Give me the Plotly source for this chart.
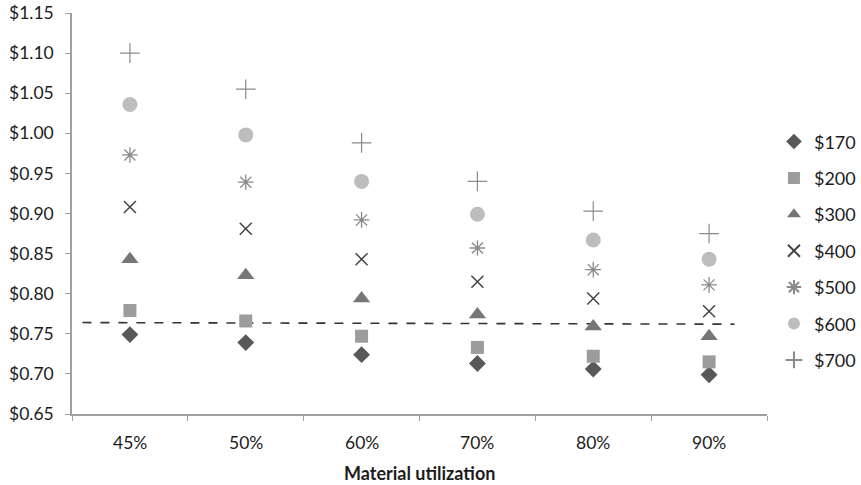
import plotly.graph_objects as go

# Material utilization categories (x axis)
categories = ["45%", "50%", "60%", "70%", "80%", "90%"]

# Cost per part for each material price scenario
price_170 = [0.749, 0.739, 0.724, 0.713, 0.706, 0.699]
price_200 = [0.779, 0.766, 0.747, 0.733, 0.722, 0.715]
price_300 = [0.843, 0.823, 0.794, 0.774, 0.759, 0.747]
price_400 = [0.908, 0.881, 0.843, 0.815, 0.794, 0.778]
price_500 = [0.973, 0.939, 0.892, 0.857, 0.830, 0.811]
price_600 = [1.036, 0.998, 0.940, 0.899, 0.867, 0.843]
price_700 = [1.100, 1.055, 0.988, 0.940, 0.903, 0.875]

series_names = ["$170", "$200", "$300", "$400", "$500", "$600", "$700"]
series_values = [price_170, price_200, price_300, price_400, price_500, price_600, price_700]

# Reference (target cost) dashed line, endpoints in category-index units
ref_x = [-0.41, 5.22]
ref_y = [0.764, 0.762]

y_ticks = [0.65, 0.70, 0.75, 0.80, 0.85, 0.90, 0.95, 1.00, 1.05, 1.10, 1.15]

styles = [
    dict(symbol="diamond", color="#585858", size=13, lw=0, lc="#585858"),
    dict(symbol="square", color="#9c9c9c", size=13, lw=0, lc="#9c9c9c"),
    dict(symbol="triangle-up", color="#767676", size=15, lw=0, lc="#767676"),
    dict(symbol="x-thin-open", color="#444444", size=12, lw=1.5, lc="#444444"),
    dict(symbol="asterisk-open", color="#8a8a8a", size=13, lw=1.3, lc="#8a8a8a"),
    dict(symbol="circle", color="#bdbdbd", size=15, lw=0, lc="#bdbdbd"),
    dict(symbol="cross-thin-open", color="#8a8a8a", size=14, lw=1.2, lc="#8a8a8a"),
]

x_idx = list(range(len(categories)))

fig = go.Figure()

fig.add_trace(go.Scatter(
    x=ref_x, y=ref_y, mode="lines",
    line=dict(color="#333333", width=1.6, dash="dash"),
    showlegend=False, hoverinfo="skip",
))

for i, (name, vals, st) in enumerate(zip(series_names, series_values, styles)):
    fig.add_trace(go.Scatter(
        x=x_idx, y=vals, mode="markers", name=name,
        legendgroup=f"g{i}",
        marker=dict(symbol=st["symbol"], color=st["color"], size=st["size"],
                    line=dict(width=st["lw"], color=st["lc"])),
    ))

font_family = "Lato, 'Open Sans', sans-serif"
text_color = "#1c1c1c"

plot_h = 485 - 13 - 71

fig.update_layout(
    width=861, height=485,
    margin=dict(l=72, r=94, t=13, b=71, autoexpand=False),
    plot_bgcolor="white", paper_bgcolor="white",
    font=dict(family=font_family, size=17.5, color=text_color),
    legend=dict(
        x=1.010, xanchor="left", y=0.407, yanchor="middle",
        font=dict(size=18, color=text_color),
        tracegroupgap=10, itemwidth=30, itemsizing="constant",
        bgcolor="rgba(0,0,0,0)",
    ),
    xaxis=dict(
        range=[-0.5, 5.5],
        tickvals=[-0.5 + k for k in range(len(categories) + 1)],
        ticktext=[""] * (len(categories) + 1),
        ticks="outside", ticklen=5, tickcolor="#a0a0a0",
        showline=True, linecolor="#a0a0a0", linewidth=1.5,
        showgrid=False, zeroline=False,
    ),
    yaxis=dict(
        range=[0.65, 1.15],
        tickvals=y_ticks,
        ticktext=[f"${v:.2f}" for v in y_ticks],
        ticks="outside", ticklen=5, tickcolor="#a0a0a0",
        showline=True, linecolor="#a0a0a0", linewidth=1.5,
        showgrid=False, zeroline=False,
        tickfont=dict(size=17.5),
        ticklabelstandoff=8,
    ),
)

# Category labels centred between the tick marks
for i, c in enumerate(categories):
    fig.add_annotation(
        x=i, y=(485 - 71 - 442) / plot_h, xref="x", yref="paper", yanchor="middle",
        text=c, showarrow=False, font=dict(size=17.5, color=text_color),
    )

# Axis title
fig.add_annotation(
    x=0.5, y=(485 - 71 - 473) / plot_h, xref="paper", yref="paper",
    yanchor="middle", text="<b>Material utilization</b>", showarrow=False,
    font=dict(size=18, color=text_color),
)

fig.write_html("out.html")
